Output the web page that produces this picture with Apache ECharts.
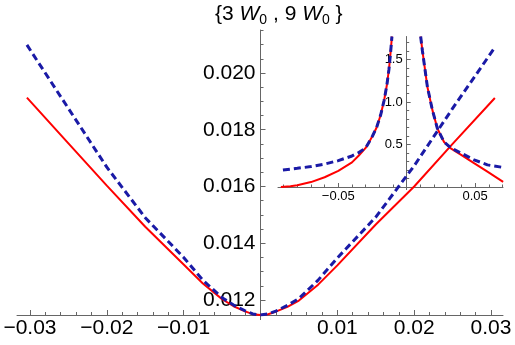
<!DOCTYPE html>
<html>
<head>
<meta charset="utf-8">
<script src="https://cdn.jsdelivr.net/npm/echarts@6/dist/echarts.min.js"></script>
<style>
  html, body { margin: 0; padding: 0; background: #fff; }
  #chart { width: 515px; height: 345px; }
</style>
</head>
<body>
<div id="chart"></div>
<script>
// main plot
var mainX    = [-0.0304, -0.025, -0.02, -0.015, -0.01, -0.0075, -0.005, -0.0035, -0.002, -0.001, 0,
                0.001, 0.002, 0.0035, 0.005, 0.0075, 0.01, 0.015, 0.02, 0.025, 0.0305];
var mainRed  = [0.01913, 0.01752, 0.01603, 0.01458, 0.01325, 0.01258, 0.01203, 0.01178, 0.01160, 0.01150, 0.01147,
                0.01150, 0.01159, 0.01176, 0.01198, 0.01254, 0.01322, 0.01466, 0.01600, 0.01750, 0.01912];
var mainBlue = [0.02099, 0.01875, 0.01668, 0.01490, 0.01350, 0.01270, 0.01208, 0.01182, 0.01162, 0.01151, 0.01147,
                0.01151, 0.01161, 0.01181, 0.01205, 0.01270, 0.01348, 0.01492, 0.01673, 0.01875, 0.02090];

// inset, left branch
var insetLX    = [-0.092, -0.085, -0.08, -0.07, -0.06, -0.05, -0.04, -0.035, -0.03, -0.025, -0.022, -0.019, -0.0165, -0.0145, -0.013, -0.0118, -0.0108];
var insetLRed  = [0, 0.008, 0.02, 0.058, 0.115, 0.19, 0.29, 0.37, 0.46, 0.60, 0.70, 0.85, 1.02, 1.20, 1.38, 1.58, 1.77];
var insetLBX   = [-0.0905, -0.08, -0.07, -0.06, -0.05, -0.04, -0.035, -0.03, -0.025, -0.022, -0.019, -0.0165, -0.0145, -0.013, -0.0118, -0.0108];
var insetLBlue = [0.20, 0.22, 0.24, 0.27, 0.31, 0.365, 0.405, 0.46, 0.60, 0.70, 0.85, 1.02, 1.20, 1.38, 1.58, 1.77];

// inset, right branch
var insetRX    = [0.0102, 0.0115, 0.0127, 0.0151, 0.0187, 0.0224, 0.0273, 0.0322, 0.0395, 0.0492, 0.059, 0.0705];
var insetRRed  = [1.77, 1.60, 1.46, 1.18, 0.91, 0.69, 0.53, 0.455, 0.38, 0.28, 0.18, 0.06];
var insetRBlue = [1.77, 1.60, 1.46, 1.18, 0.91, 0.69, 0.53, 0.46, 0.40, 0.32, 0.26, 0.23];

// ticks
var mainXTicks = [-0.03, -0.02, -0.01, 0.01, 0.02, 0.03];
var mainXMinor = [-0.028, -0.026, -0.024, -0.022, -0.018, -0.016, -0.014, -0.012, -0.008, -0.006, -0.004, -0.002,
                  0.002, 0.004, 0.006, 0.008, 0.012, 0.014, 0.016, 0.018, 0.022, 0.024, 0.026, 0.028];
var mainYTicks = [0.012, 0.014, 0.016, 0.018, 0.020];
var mainYMinor = [0.0125, 0.013, 0.0135, 0.0145, 0.015, 0.0155, 0.0165, 0.017, 0.0175, 0.0185, 0.019, 0.0195, 0.0205, 0.021, 0.0215];
var insetXTicks = [-0.05, 0.05];
var insetXMinor = [-0.09, -0.08, -0.07, -0.06, -0.04, -0.03, -0.02, -0.01, 0.01, 0.02, 0.03, 0.04, 0.06, 0.07];
var insetYTicks = [0.5, 1.0, 1.5];
var insetYMinor = [0.1, 0.2, 0.3, 0.4, 0.6, 0.7, 0.8, 0.9, 1.1, 1.2, 1.3, 1.4, 1.6, 1.7];
var zeroTick = [0];

var FONT = 'Liberation Sans';
var AX = '#666';
var RED = '#ff0000';
var BLUE = '#1a1aa6';

function pairs(xs, ys) {
    return xs.map(function (x, i) { return [x, ys[i]]; });
}
function minus(s) { return s.replace('-', '\u2212'); }

function valAxis(grid, min, max, opt) {
    return {
        type: 'value', gridIndex: grid, min: min, max: max,
        position: opt.position, offset: opt.offset || 0,
        axisLine: { show: opt.line, onZero: false, lineStyle: { color: AX, width: 1 } },
        axisTick: { show: true, inside: !opt.out, length: opt.len, customValues: opt.ticks, lineStyle: { color: AX, width: 1 } },
        axisLabel: opt.fmt ? {
            show: true, customValues: opt.ticks, formatter: opt.fmt,
            fontFamily: FONT, fontSize: opt.size, color: '#000', margin: opt.margin
        } : { show: false },
        splitLine: { show: false }
    };
}

function line(xi, xs, ys, color, dashed) {
    return {
        type: 'line', xAxisIndex: xi, yAxisIndex: xi, data: pairs(xs, ys),
        showSymbol: false, smooth: false,
        lineStyle: dashed ? { color: color, width: 3, type: [7, 4] } : { color: color, width: 2 }
    };
}

var myChart = echarts.init(document.getElementById('chart'));
myChart.setOption({
    animation: false,
    graphic: [{
        type: 'text', x: 215, y: 1,
        style: {
            text: '{a|{3 }{i|W}{s|0}{a| , 9 }{i|W}{s|0}{a| }}',
            align: 'left', verticalAlign: 'top',
            fill: '#000', fontFamily: FONT, fontSize: 21,
            rich: {
                a: { fontFamily: FONT, fontSize: 21, fill: '#000', lineHeight: 26 },
                i: { fontFamily: FONT, fontSize: 21, fontStyle: 'italic', fill: '#000', lineHeight: 26 },
                s: { fontFamily: FONT, fontSize: 14, fill: '#000', lineHeight: 14, verticalAlign: 'bottom' }
            }
        }
    }],
    grid: [
        { left: 17, top: 30, width: 486, height: 285, outerBoundsMode: 'none' },
        { left: 278, top: 36.5, width: 225, height: 150.5, outerBoundsMode: 'none' }
    ],
    xAxis: [
        valAxis(0, -0.03169, 0.03156, { position: 'bottom', line: true, len: 5, ticks: mainXTicks, size: 21, margin: 3,
            fmt: function (v) { return minus(v.toFixed(2)); } }),
        valAxis(0, -0.03169, 0.03156, { position: 'bottom', line: false, len: 3, ticks: mainXMinor }),
        valAxis(1, -0.0941, 0.0704, { position: 'bottom', line: true, len: 4, ticks: insetXTicks, size: 13, margin: 3,
            fmt: function (v) { return minus(v.toFixed(2)); } }),
        valAxis(1, -0.0941, 0.0704, { position: 'bottom', line: false, len: 2.5, ticks: insetXMinor }),
        valAxis(0, -0.03169, 0.03156, { position: 'bottom', line: false, len: 5, ticks: zeroTick, out: true }),
        valAxis(1, -0.0941, 0.0704, { position: 'bottom', line: false, len: 3, ticks: zeroTick, out: true })
    ],
    yAxis: [
        valAxis(0, 0.011471, 0.021515, { position: 'left', offset: -243.5, line: true, len: 5, ticks: mainYTicks, size: 21, margin: 5,
            fmt: function (v) { return v.toFixed(3); } }),
        valAxis(0, 0.011471, 0.021515, { position: 'left', offset: -243.5, line: false, len: 3, ticks: mainYMinor }),
        valAxis(1, 0, 1.77, { position: 'left', offset: -128.7, line: true, len: 4, ticks: insetYTicks, size: 13, margin: 4,
            fmt: function (v) { return v.toFixed(1); } }),
        valAxis(1, 0, 1.77, { position: 'left', offset: -128.7, line: false, len: 2.5, ticks: insetYMinor })
    ],
    series: [
        line(0, mainX, mainRed, RED, false),
        line(0, mainX, mainBlue, BLUE, true),
        line(2, insetLX, insetLRed, RED, false),
        line(2, insetRX, insetRRed, RED, false),
        line(2, insetLBX, insetLBlue, BLUE, true),
        line(2, insetRX, insetRBlue, BLUE, true)
    ]
});
</script>
</body>
</html>
